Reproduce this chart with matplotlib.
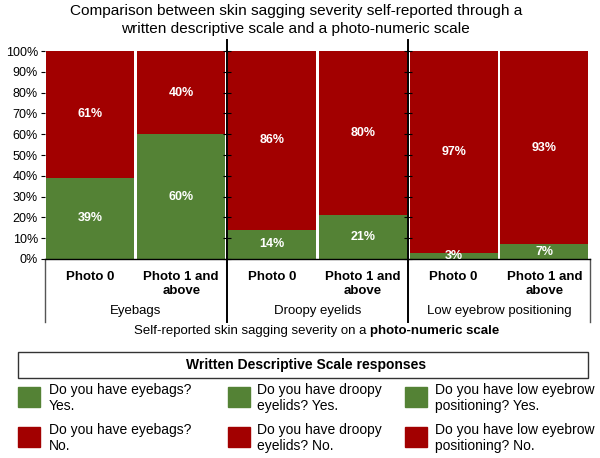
import matplotlib
matplotlib.use("Agg")
import matplotlib.pyplot as plt
import matplotlib.transforms as mtransforms
from matplotlib.patches import Rectangle

plt.rcParams['font.family'] = ['Liberation Sans', 'DejaVu Sans']

# data
groups = ["Eyebags", "Droopy eyelids", "Low eyebrow positioning"]
cats = ["Photo 0", "Photo 1 and\nabove"] * 3
yes = [39, 60, 14, 21, 3, 7]
no = [61, 40, 86, 80, 97, 93]
yticks = [0, 10, 20, 30, 40, 50, 60, 70, 80, 90, 100]
legend_yes = ["Do you have eyebags?\nYes.", "Do you have droopy\neyelids? Yes.",
              "Do you have low eyebrow\npositioning? Yes."]
legend_no = ["Do you have eyebags?\nNo.", "Do you have droopy\neyelids? No.",
             "Do you have low eyebrow\npositioning? No."]

green = '#548235'
red = '#A20000'

fig = plt.figure(figsize=(6, 4.58), dpi=100)
ax = fig.add_axes([0.075, 0.4345, 0.908, 0.4541])

x = list(range(len(cats)))
ax.bar(x, yes, width=0.97, color=green)
ax.bar(x, no, bottom=yes, width=0.97, color=red)

for i in x:
    ax.text(i, yes[i] / 2, f"{yes[i]}%", ha='center', va='center',
            color='white', fontsize=9, fontweight='bold', clip_on=True)
    ax.text(i, yes[i] + (100 - yes[i]) / 2, f"{no[i]}%", ha='center', va='center',
            color='white', fontsize=9, fontweight='bold')

ax.set_xlim(-0.5, 5.5)
ax.set_ylim(0, 100)
ax.set_yticks(yticks)
ax.set_yticklabels([f"{t}%" for t in yticks], fontsize=9)
ax.tick_params(axis='y', length=3, width=0.8, pad=2)
ax.set_xticks(x)
ax.set_xticklabels(cats, fontsize=9.5, fontweight='bold', linespacing=1.2)
ax.tick_params(axis='x', length=0, pad=8.5)
for s in ['top', 'right', 'left']:
    ax.spines[s].set_visible(False)
ax.spines['bottom'].set_linewidth(1.0)

trans = mtransforms.blended_transform_factory(ax.transData, ax.transAxes)
# outer box of the category area
for xv in [-0.5, 5.5]:
    ax.plot([xv, xv], [-0.303, 0], color='#555555', lw=1.0, transform=trans, clip_on=False)
# group dividers
for xv in [1.5, 3.5]:
    ax.plot([xv, xv], [-0.303, 1.053], color='black', lw=1.4, transform=trans, clip_on=False)
    ax.plot([xv] * len(yticks), yticks, ls='none', marker='_', ms=6, mew=0.8,
            color='black', clip_on=False)

for g, name in enumerate(groups):
    ax.text(2 * g + 0.5, -0.25, name, transform=trans, ha='center', va='center',
            fontsize=9.5)

fig.text(0.493, 0.956, "Comparison between skin sagging severity self-reported through a\n"
         "written descriptive scale and a photo-numeric scale",
         ha='center', va='center', fontsize=11.1, linespacing=1.35)

# x label with bold part
t1 = fig.text(0, 0.277, "Self-reported skin sagging severity on a ", fontsize=9.5, va='center')
t2 = fig.text(0, 0.277, "photo-numeric scale", fontsize=9.5, fontweight='bold', va='center')
fig.canvas.draw()
r = fig.canvas.get_renderer()
w1 = t1.get_window_extent(r).width / fig.bbox.width
w2 = t2.get_window_extent(r).width / fig.bbox.width
x0 = 0.528 - (w1 + w2) / 2
t1.set_x(x0)
t2.set_x(x0 + w1)

# legend title box
fig.add_artist(Rectangle((0.03, 0.1747), 0.95, 0.0568, transform=fig.transFigure,
                         fill=False, edgecolor='#333333', lw=1.0))
fig.text(0.51, 0.203, "Written Descriptive Scale responses", ha='center', va='center',
         fontsize=10, fontweight='bold')

sq_x = [18, 228, 405]
tx_x = [49, 257, 435]
rows = [(legend_yes, green, 387), (legend_no, red, 427)]
for labels, col, top in rows:
    for j in range(3):
        fig.add_artist(Rectangle((sq_x[j] / 600, 1 - (top + 20) / 458), 22 / 600, 20 / 458,
                                 transform=fig.transFigure, color=col))
        fig.text(tx_x[j] / 600, 1 - (top + 11) / 458, labels[j], ha='left', va='center',
                 fontsize=10, linespacing=1.15)

fig.savefig("out.png", dpi=100)
